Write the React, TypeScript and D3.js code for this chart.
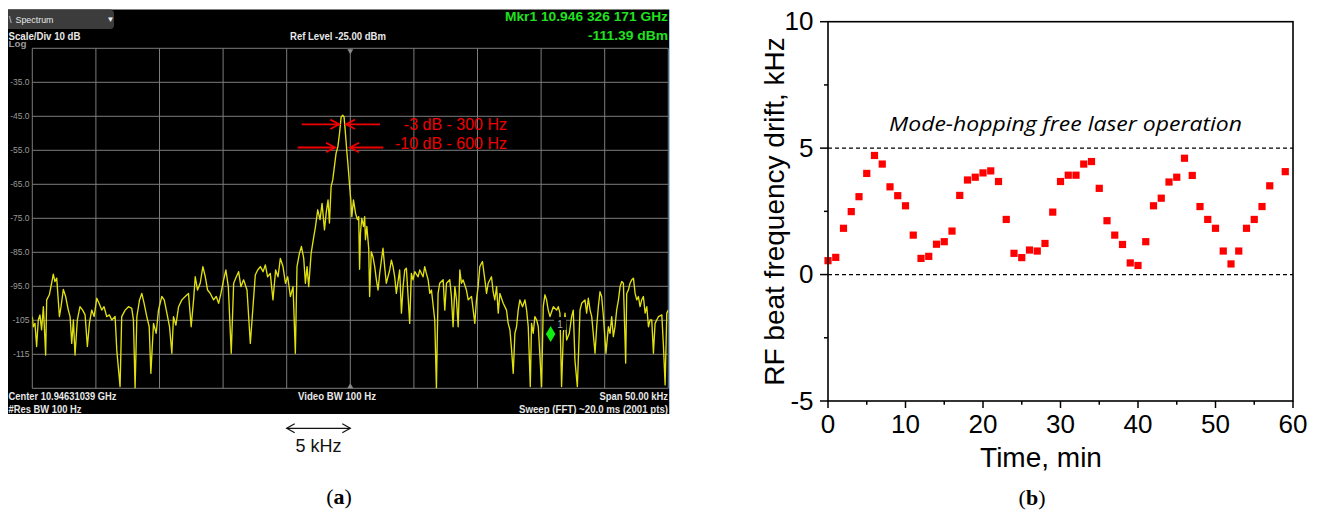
import React from 'react';
import * as d3 from 'd3';

// spectrum trace (kHz offset from centre, dBm)
const traceFreq = [
  -25.0, -24.92, -24.79, -24.66, -24.53, -24.4, -24.27, -24.13, -23.95, -23.87, -23.66, -23.48, -23.35, -23.22, -23.08,
  -22.87, -22.74, -22.56, -22.38, -22.17, -22.03, -21.9, -21.77, -21.64, -21.46, -21.25, -21.04, -20.85, -20.67, -20.51,
  -20.33, -20.14, -19.93, -19.75, -19.54, -19.36, -19.15, -18.94, -18.75, -18.49, -18.36, -18.1, -17.97, -17.7, -17.44,
  -17.18, -17.05, -16.92, -16.78, -16.57, -16.39, -16.21, -16.0, -15.81, -15.68, -15.47, -15.26, -15.08, -14.82, -14.63,
  -14.42, -14.21, -14.03, -13.9, -13.71, -13.5, -13.24, -12.98, -12.72, -12.51, -12.32, -12.19, -12.01, -11.8, -11.59,
  -11.4, -11.22, -11.01, -10.75, -10.54, -10.35, -10.17, -9.96, -9.78, -9.59, -9.36, -9.17, -8.96, -8.78, -8.6,
  -8.39, -8.12, -7.86, -7.65, -7.47, -7.28, -7.07, -6.86, -6.68, -6.5, -6.29, -6.08, -5.87, -5.68, -5.5,
  -5.29, -5.1, -4.92, -4.71, -4.5, -4.32, -4.19, -4.0, -3.84, -3.66, -3.53, -3.4, -3.27, -3.08, -2.87,
  -2.74, -2.56, -2.38, -2.22, -2.03, -1.9, -1.75, -1.64, -1.51, -1.38, -1.25, -1.12, -0.98, -0.85, -0.72,
  -0.59, -0.49, -0.38, -0.28, -0.17, -0.07, 0.04, 0.12, 0.25, 0.41, 0.56, 0.66, 0.73, 0.8, 0.9,
  1.04, 1.13, 1.19, 1.3, 1.45, 1.52, 1.65, 1.78, 1.92, 2.05, 2.18, 2.31, 2.57, 2.7, 2.83,
  3.1, 3.23, 3.36, 3.49, 3.62, 3.88, 4.02, 4.15, 4.28, 4.41, 4.67, 4.8, 4.93, 5.07, 5.33,
  5.46, 5.72, 5.85, 5.98, 6.12, 6.25, 6.38, 6.64, 6.77, 6.9, 7.03, 7.3, 7.43, 7.56, 7.82,
  7.95, 8.08, 8.22, 8.35, 8.48, 8.61, 8.74, 8.87, 9.13, 9.27, 9.53, 9.79, 9.92, 10.05, 10.18,
  10.39, 10.58, 10.71, 10.84, 11.1, 11.23, 11.36, 11.5, 11.63, 11.76, 12.02, 12.28, 12.41, 12.55, 12.68,
  12.81, 12.94, 13.07, 13.2, 13.33, 13.54, 13.73, 13.86, 13.99, 14.15, 14.25, 14.38, 14.51, 14.65, 14.78,
  15.04, 15.17, 15.3, 15.43, 15.56, 15.7, 15.96, 16.22, 16.35, 16.48, 16.61, 16.75, 16.88, 17.01, 17.22,
  17.4, 17.53, 17.66, 17.85, 18.06, 18.19, 18.45, 18.58, 18.71, 18.85, 18.98, 19.24, 19.37, 19.5, 19.63,
  19.76, 19.9, 20.1, 20.29, 20.42, 20.55, 20.68, 20.81, 20.94, 21.08, 21.21, 21.34, 21.47, 21.65, 21.73,
  21.86, 21.99, 22.13, 22.26, 22.39, 22.52, 22.65, 22.78, 22.91, 23.04, 23.18, 23.31, 23.44, 23.57, 23.7,
  23.83, 23.96, 24.23, 24.49, 24.62, 24.75, 24.88, 25.0,
];
const traceLevel = [
  -103.9, -106.9, -105.9, -112.7, -104.9, -103.4, -107.8, -101.0, -115.2, -99.0, -97.5, -94.1, -91.4, -93.6, -92.6,
  -103.9, -101.0, -95.9, -98.0, -102.0, -103.9, -111.8, -104.9, -115.2, -104.9, -101.0, -102.0, -103.4, -112.7, -105.9,
  -102.0, -103.9, -98.5, -100.0, -102.0, -101.0, -103.9, -103.4, -104.9, -103.9, -113.7, -124.5, -103.9, -102.0, -101.0,
  -101.5, -104.9, -125.0, -103.9, -99.0, -97.1, -100.0, -103.9, -106.9, -120.6, -105.9, -108.8, -102.0, -98.0, -99.0,
  -102.9, -106.9, -114.7, -103.9, -106.4, -101.0, -99.0, -98.0, -97.1, -106.9, -99.0, -92.2, -96.1, -94.1, -89.2,
  -92.2, -96.1, -97.1, -99.0, -98.0, -100.0, -97.1, -93.1, -90.2, -95.1, -114.7, -94.1, -92.2, -90.7, -95.1,
  -93.1, -96.1, -111.8, -101.0, -91.7, -90.2, -89.2, -90.7, -88.7, -92.2, -91.2, -99.0, -90.2, -92.2, -86.8,
  -89.2, -94.1, -92.2, -98.0, -95.1, -114.7, -89.2, -85.3, -83.3, -86.8, -94.1, -89.2, -95.1, -85.3, -80.4,
  -77.5, -72.5, -75.4, -70.6, -78.4, -73.5, -69.6, -76.4, -65.7, -63.7, -59.8, -55.9, -54.0, -50.1, -45.2,
  -44.7, -45.2, -50.1, -55.0, -59.8, -64.7, -69.6, -74.5, -69.6, -73.5, -75.4, -74.5, -90.0, -79.3, -75.0,
  -77.4, -74.5, -81.3, -77.4, -84.0, -98.0, -84.8, -86.3, -89.2, -93.1, -96.1, -91.2, -83.8, -89.2, -94.1,
  -90.2, -87.3, -89.2, -92.2, -97.1, -90.2, -102.9, -95.1, -90.2, -89.7, -105.9, -91.2, -93.1, -90.7, -92.2,
  -90.2, -92.2, -89.2, -91.2, -93.1, -97.1, -96.1, -104.9, -125.0, -97.1, -94.1, -93.1, -102.0, -94.1, -93.1,
  -98.0, -106.9, -95.1, -99.0, -106.9, -90.2, -94.1, -93.1, -96.1, -99.0, -98.0, -105.9, -99.0, -95.1, -89.2,
  -87.7, -93.1, -97.1, -94.1, -92.2, -96.6, -99.0, -95.1, -102.9, -97.1, -100.0, -102.0, -105.9, -107.8, -113.7,
  -120.6, -108.8, -106.9, -102.0, -99.0, -101.0, -99.0, -102.0, -106.9, -124.5, -105.9, -108.8, -103.9, -104.9, -106.9,
  -124.5, -101.0, -97.5, -99.0, -102.0, -103.9, -101.0, -102.0, -101.0, -102.9, -124.5, -108.8, -102.9, -110.8, -108.8,
  -103.9, -102.0, -116.7, -124.5, -102.0, -100.0, -99.0, -102.9, -98.5, -102.0, -103.9, -114.7, -106.9, -101.0, -96.6,
  -98.0, -103.9, -114.7, -106.9, -108.8, -103.9, -109.8, -106.9, -102.0, -99.0, -95.1, -93.6, -94.1, -117.6, -97.1,
  -96.1, -94.1, -93.1, -92.6, -97.1, -99.0, -98.0, -101.0, -99.0, -98.0, -102.9, -101.0, -106.9, -104.9, -104.9,
  -114.7, -105.9, -103.9, -103.4, -112.7, -124.0, -102.9, -102.0,
];
const levelTicks = [-35, -45, -55, -65, -75, -85, -95, -105, -115];
const levelTickLabels = ['-35.0', '-45.0', '-55.0', '-65.0', '-75.0', '-85.0', '-95.0', '-105', '-115'];
const marker = { freq: 15.75, level: -111.39 };

// beat frequency drift over one hour
const driftTime = [
  0, 1, 2, 3, 4, 5, 6, 7, 8, 9, 10, 11, 12, 13, 14, 15, 16, 17, 18, 19, 20, 21, 22, 23, 24, 25, 26, 27, 28, 29,
  30, 31, 32, 33, 34, 35, 36, 37, 38, 39, 40, 41, 42, 43, 44, 45, 46, 47, 48, 49, 50, 51, 52, 53, 54, 55, 56, 57, 59,
];
const driftKHz = [
  0.55, 0.68, 1.83, 2.49, 3.08, 4.0, 4.71, 4.37, 3.47, 3.12, 2.72, 1.56, 0.64, 0.72, 1.2, 1.3, 1.72, 3.13, 3.74, 3.85,
  4.02, 4.1, 3.68, 2.18, 0.84, 0.67, 0.97, 0.93, 1.23, 2.47, 3.68, 3.93, 3.93, 4.37, 4.47, 3.41, 2.13, 1.56, 1.19, 0.46,
  0.36, 1.3, 2.72, 3.02, 3.66, 3.85, 4.6, 3.92, 2.69, 2.18, 1.83, 0.93, 0.42, 0.93, 1.83, 2.18, 2.69, 3.51, 4.07,
];
const timeTicks = [0, 10, 20, 30, 40, 50, 60];
const timeMinor = [5, 15, 25, 35, 45, 55];
const driftTicks = [-5, 0, 5, 10];
const driftMinor = [-2.5, 2.5, 7.5];
const limitLines = [0, 5];

const specX = d3.scaleLinear().domain([-25, 25]).range([32.3, 668.3]);
const specY = d3.scaleLinear().domain([-125, -25]).range([388.3, 48.3]);
const tX = d3.scaleLinear().domain([0, 60]).range([828, 1293]);
const dY = d3.scaleLinear().domain([-5, 10]).range([401, 21.7]);

const SANS = 'Liberation Sans, Arial, sans-serif';
const SERIF = 'Liberation Serif, Times New Roman, serif';

const Spectrum = () => {
  const tracePath = d3
    .line<number>()
    .x((_, i) => specX(traceFreq[i]))
    .y((d) => specY(d))(traceLevel);

  const mx = specX(marker.freq);
  const my = specY(marker.level);
  const hdr = { fill: '#e8e8e8', fontFamily: SANS, fontWeight: 700, fontSize: 10 } as const;

  // red -3 / -10 dB arrows
  const arrow = (tail: number, tip: number, y: number, key: string) => {
    const dir = tip > tail ? 1 : -1;
    return (
      <g key={key} stroke='#f00000' strokeWidth={1.8} fill='none'>
        <line x1={tail} y1={y} x2={tip} y2={y} />
        <polyline points={`${tip - dir * 9},${y - 4.7} ${tip},${y} ${tip - dir * 9},${y + 4.7}`} />
      </g>
    );
  };

  const kx0 = specX(-5);
  const kx1 = specX(0);

  return (
    <g>
      <rect x={8} y={9.5} width={661} height={404.5} fill='#000' />
      <line x1={669.5} y1={9.5} x2={669.5} y2={414} stroke='#9cc8ee' strokeWidth={1} />

      {/* tab */}
      <path d='M8,9.5 H110 Q114,9.5 114,14 V25 Q114,29 110,29 H8 Z' fill='#3c3c3c' />
      <text x={9} y={22.5} fill='#ddd' fontFamily={SANS} fontSize={9}>\</text>
      <text x={15.5} y={22.5} fill='#e8e8e8' fontFamily={SANS} fontSize={9} textLength={38} lengthAdjust='spacingAndGlyphs'>
        Spectrum
      </text>
      <text x={110.5} y={22} fill='#eee' fontFamily={SANS} fontSize={8} textAnchor='middle'>▼</text>

      <text x={8.5} y={39.5} {...hdr} textLength={72} lengthAdjust='spacingAndGlyphs'>Scale/Div 10 dB</text>
      <text x={290} y={39.5} {...hdr} textLength={96} lengthAdjust='spacingAndGlyphs'>Ref Level -25.00 dBm</text>
      <text x={668} y={21} {...hdr} fill='#20e020' fontSize={13} textAnchor='end' textLength={163} lengthAdjust='spacingAndGlyphs'>
        Mkr1  10.946 326 171 GHz
      </text>
      <text x={668} y={40} {...hdr} fill='#20e020' fontSize={13} textAnchor='end' textLength={80} lengthAdjust='spacingAndGlyphs'>
        -111.39 dBm
      </text>
      <text x={8.5} y={47} fill='#9a9a9a' fontFamily={SANS} fontWeight={700} fontSize={9} textLength={18} lengthAdjust='spacingAndGlyphs'>
        Log
      </text>

      {/* graticule */}
      <g stroke='#7c7c7c' strokeWidth={1}>
        {d3.range(-25, 25.01, 5).map((f) => (
          <line key={`v${f}`} x1={specX(f)} y1={specY(-25)} x2={specX(f)} y2={specY(-125)} />
        ))}
        {d3.range(-125, -24, 10).map((l) => (
          <line key={`h${l}`} x1={specX(-25)} y1={specY(l)} x2={specX(25)} y2={specY(l)} />
        ))}
      </g>
      {levelTicks.map((l, i) => (
        <text key={l} x={29.5} y={specY(l)} dy='0.35em' textAnchor='end' fill='#9a9a9a' fontFamily={SANS} fontSize={8.5}>
          {levelTickLabels[i]}
        </text>
      ))}
      <path d={`M${specX(0) - 3},${specY(-25) + 1} h6 l-3,5 z`} fill='#888' />
      <path d={`M${specX(0) - 3},${specY(-125)} h6 l-3,-5 z`} fill='#888' />

      <clipPath id='specClip'>
        <rect x={specX(-25)} y={specY(-25)} width={specX(25) - specX(-25)} height={specY(-125) - specY(-25)} />
      </clipPath>
      <path d={tracePath ?? ''} fill='none' stroke='#e0e010' strokeWidth={1.35} strokeLinejoin='round' clipPath='url(#specClip)' />

      {/* marker 1 */}
      <path d={`M${mx},${my - 16} L${mx + 4.7},${my - 8} L${mx},${my} L${mx - 4.7},${my - 8} Z`} fill='#10f010' />
      <rect x={mx + 3.5} y={my - 25} width={12} height={13} fill='#000' />
      <text x={mx + 9.5} y={my - 14.5} textAnchor='middle' fill='#aaa' fontFamily={SANS} fontSize={10}>1</text>

      {arrow(301.7, 339.3, 124.3, 'a1')}
      {arrow(380, 346, 124.3, 'a2')}
      {arrow(297.7, 335, 147.5, 'a3')}
      {arrow(383.3, 350, 147.5, 'a4')}
      <text x={507} y={130} textAnchor='end' fill='#f00000' fontFamily={SANS} fontSize={16}>-3 dB - 300 Hz</text>
      <text x={507} y={149} textAnchor='end' fill='#f00000' fontFamily={SANS} fontSize={16}>-10 dB - 600 Hz</text>

      <text x={8.5} y={400} {...hdr} textLength={108} lengthAdjust='spacingAndGlyphs'>Center 10.94631039 GHz</text>
      <text x={8.5} y={413} {...hdr} textLength={73} lengthAdjust='spacingAndGlyphs'>#Res BW 100 Hz</text>
      <text x={298} y={400} {...hdr} textLength={78} lengthAdjust='spacingAndGlyphs'>Video BW 100 Hz</text>
      <text x={668} y={400} {...hdr} textAnchor='end' textLength={68.5} lengthAdjust='spacingAndGlyphs'>Span 50.00 kHz</text>
      <text x={668} y={413} {...hdr} textAnchor='end' textLength={149} lengthAdjust='spacingAndGlyphs'>
        Sweep (FFT) ~20.0 ms  (2001 pts)
      </text>

      {/* 5 kHz scale arrow */}
      <g stroke='#111' strokeWidth={1.2} fill='none'>
        <line x1={kx0} y1={428.3} x2={kx1} y2={428.3} />
        <polyline points={`${kx0 + 8},${423.8} ${kx0},428.3 ${kx0 + 8},432.8`} />
        <polyline points={`${kx1 - 8},${423.8} ${kx1},428.3 ${kx1 - 8},432.8`} />
      </g>
      <text x={(kx0 + kx1) / 2} y={451.5} textAnchor='middle' fill='#111' fontFamily={SANS} fontSize={18}>5 kHz</text>
      <text x={339} y={504} textAnchor='middle' fill='#000' fontFamily={SERIF} fontSize={22}>
        (<tspan fontWeight={700}>a</tspan>)
      </text>
    </g>
  );
};

const Drift = () => {
  const x0 = tX(0);
  const x1 = tX(60);
  const y0 = dY(-5);
  const y1 = dY(10);
  return (
    <g fontFamily={SANS} fill='#000'>
      {limitLines.map((v) => (
        <line key={v} x1={x0} x2={x1} y1={dY(v)} y2={dY(v)} stroke='#000' strokeWidth={1.2} strokeDasharray='4 3' />
      ))}
      <text x={889} y={131} fontFamily='Open Sans, Noto Sans, sans-serif' fontStyle='italic' fontSize={20}
        textLength={353} lengthAdjust='spacingAndGlyphs'>
        Mode-hopping free laser operation
      </text>

      {driftTime.map((t, i) => (
        <rect key={t} x={tX(t) - 3.6} y={dY(driftKHz[i]) - 3.6} width={7.2} height={7.2} fill='#ff0000' />
      ))}

      <rect x={x0} y={y1} width={x1 - x0} height={y0 - y1} fill='none' stroke='#000' strokeWidth={1.6} />
      {timeTicks.map((t) => (
        <g key={t}>
          <line x1={tX(t)} x2={tX(t)} y1={y0} y2={y0 + 7} stroke='#000' strokeWidth={1.5} />
          <text x={tX(t)} y={433} textAnchor='middle' fontSize={26}>{t}</text>
        </g>
      ))}
      {timeMinor.map((t) => (
        <line key={t} x1={tX(t)} x2={tX(t)} y1={y0} y2={y0 + 3.8} stroke='#000' strokeWidth={1.5} />
      ))}
      {driftTicks.map((v) => (
        <g key={v}>
          <line x1={x0 - 8} x2={x0} y1={dY(v)} y2={dY(v)} stroke='#000' strokeWidth={1.5} />
          <text x={813.5} y={dY(v)} dy='0.33em' textAnchor='end' fontSize={26}>{v}</text>
        </g>
      ))}
      {driftMinor.map((v) => (
        <line key={v} x1={x0 - 4} x2={x0} y1={dY(v)} y2={dY(v)} stroke='#000' strokeWidth={1.5} />
      ))}
      <text x={1041} y={466.5} textAnchor='middle' fontSize={28}>Time, min</text>
      <text transform='translate(783.5,211.5) rotate(-90)' textAnchor='middle' fontSize={28}>
        RF beat frequency drift, kHz
      </text>
      <text x={1032} y={505} textAnchor='middle' fontFamily={SERIF} fontSize={22}>
        (<tspan fontWeight={700}>b</tspan>)
      </text>
    </g>
  );
};

const App = () => (
  <div style={{ position: 'absolute', left: 0, top: 0 }}>
    <svg width={1320} height={511} style={{ display: 'block', background: '#fff' }}>
      <Spectrum />
      <Drift />
    </svg>
  </div>
);

export default App;
